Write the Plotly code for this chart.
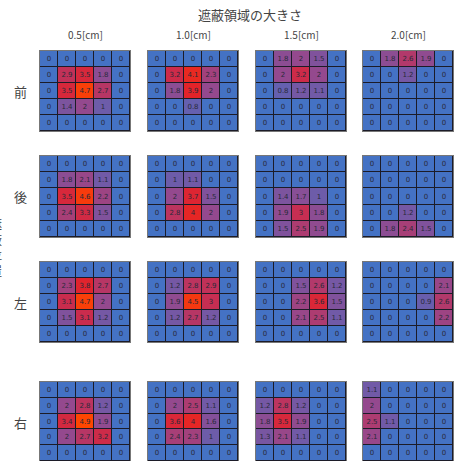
import plotly.graph_objects as go

# Shielded-area sizes (columns) and shielding positions (rows)
sizes = ["0.5[cm]", "1.0[cm]", "1.5[cm]", "2.0[cm]"]
positions = ["前", "後", "左", "右"]

front_05 = [[0, 0, 0, 0, 0], [0, 2.9, 3.5, 1.8, 0], [0, 3.5, 4.7, 2.7, 0], [0, 1.4, 2, 1, 0], [0, 0, 0, 0, 0]]
front_10 = [[0, 0, 0, 0, 0], [0, 3.2, 4.1, 2.3, 0], [0, 1.8, 3.9, 2, 0], [0, 0, 0.8, 0, 0], [0, 0, 0, 0, 0]]
front_15 = [[0, 1.8, 2, 1.5, 0], [0, 2, 3.2, 2, 0], [0, 0.8, 1.2, 1.1, 0], [0, 0, 0, 0, 0], [0, 0, 0, 0, 0]]
front_20 = [[0, 1.8, 2.6, 1.9, 0], [0, 0, 1.2, 0, 0], [0, 0, 0, 0, 0], [0, 0, 0, 0, 0], [0, 0, 0, 0, 0]]

back_05 = [[0, 0, 0, 0, 0], [0, 1.8, 2.1, 1.1, 0], [0, 3.5, 4.6, 2.2, 0], [0, 2.4, 3.3, 1.5, 0], [0, 0, 0, 0, 0]]
back_10 = [[0, 0, 0, 0, 0], [0, 1, 1.1, 0, 0], [0, 2, 3.7, 1.5, 0], [0, 2.8, 4, 2, 0], [0, 0, 0, 0, 0]]
back_15 = [[0, 0, 0, 0, 0], [0, 0, 0, 0, 0], [0, 1.4, 1.7, 1, 0], [0, 1.9, 3, 1.8, 0], [0, 1.5, 2.5, 1.9, 0]]
back_20 = [[0, 0, 0, 0, 0], [0, 0, 0, 0, 0], [0, 0, 0, 0, 0], [0, 0, 1.2, 0, 0], [0, 1.8, 2.4, 1.5, 0]]

left_05 = [[0, 0, 0, 0, 0], [0, 2.3, 3.8, 2.7, 0], [0, 3.1, 4.7, 2, 0], [0, 1.5, 3.1, 1.2, 0], [0, 0, 0, 0, 0]]
left_10 = [[0, 0, 0, 0, 0], [0, 1.2, 2.8, 2.9, 0], [0, 1.9, 4.5, 3, 0], [0, 1.2, 2.7, 1.2, 0], [0, 0, 0, 0, 0]]
left_15 = [[0, 0, 0, 0, 0], [0, 0, 1.5, 2.6, 1.2], [0, 0, 2.2, 3.6, 1.5], [0, 0, 2.1, 2.5, 1.1], [0, 0, 0, 0, 0]]
left_20 = [[0, 0, 0, 0, 0], [0, 0, 0, 0, 2.1], [0, 0, 0, 0.9, 2.6], [0, 0, 0, 0, 2.2], [0, 0, 0, 0, 0]]

right_05 = [[0, 0, 0, 0, 0], [0, 2, 2.8, 1.2, 0], [0, 3.4, 4.9, 1.9, 0], [0, 2, 2.7, 3.2, 0], [0, 0, 0, 0, 0]]
right_10 = [[0, 0, 0, 0, 0], [0, 2, 2.5, 1.1, 0], [0, 3.6, 4, 1.6, 0], [0, 2.4, 2.3, 1, 0], [0, 0, 0, 0, 0]]
right_15 = [[0, 0, 0, 0, 0], [1.2, 2.8, 1.2, 0, 0], [1.8, 3.5, 1.9, 0, 0], [1.3, 2.1, 1.1, 0, 0], [0, 0, 0, 0, 0]]
right_20 = [[1.1, 0, 0, 0, 0], [2, 0, 0, 0, 0], [2.5, 1.1, 0, 0, 0], [2.1, 0, 0, 0, 0], [0, 0, 0, 0, 0]]

grid = [
    [front_05, front_10, front_15, front_20],
    [back_05, back_10, back_15, back_20],
    [left_05, left_10, left_15, left_20],
    [right_05, right_10, right_15, right_20],
]

W, H = 454, 461
col_px = [(40, 130), (148, 238), (256, 346), (363, 453)]
row_px = [(51, 131), (156, 237), (262, 342), (382, 461)]

colorscale = [
    [0.0, "rgb(68,114,196)"],
    [0.2, "rgb(108,92,170)"],
    [0.42, "rgb(150,72,140)"],
    [0.62, "rgb(200,45,80)"],
    [0.8, "rgb(228,35,40)"],
    [1.0, "rgb(255,70,0)"],
]
ZMAX = 4.9

FONT = "Noto Sans CJK JP, Noto Sans, sans-serif"

fig = go.Figure()
layout = {}
n = 0
for r, row in enumerate(grid):
    for c, z in enumerate(row):
        n += 1
        sfx = "" if n == 1 else str(n)
        text = [[f"{v:g}" for v in line] for line in z]
        fig.add_trace(go.Heatmap(
            z=z, text=text, texttemplate="%{text}",
            textfont=dict(size=7, color="#2a2a3a", family="DejaVu Sans"),
            colorscale=colorscale, zmin=0, zmax=ZMAX, showscale=False,
            xgap=1, ygap=1, hoverinfo="skip",
            xaxis="x" + sfx, yaxis="y" + sfx,
        ))
        x0, x1 = col_px[c]
        y0, y1 = row_px[r]
        layout["xaxis" + sfx] = dict(
            domain=[x0 / W, x1 / W], range=[-0.5, 4.5],
            showticklabels=False, ticks="", showgrid=False, zeroline=False,
            showline=True, mirror=True, linecolor="#777", linewidth=1,
            anchor="y" + sfx, fixedrange=True,
        )
        layout["yaxis" + sfx] = dict(
            domain=[1 - y1 / H, 1 - y0 / H], range=[4.5, -0.5],
            showticklabels=False, ticks="", showgrid=False, zeroline=False,
            showline=True, mirror=True, linecolor="#777", linewidth=1,
            anchor="x" + sfx, fixedrange=True,
        )


def label(text, xpx, ypx, size):
    return dict(text=text, x=xpx / W, y=1 - ypx / H, xref="paper", yref="paper",
                xanchor="center", yanchor="middle", showarrow=False,
                font=dict(size=size, color="#444", family=FONT))


annotations = [label("遮蔽領域の大きさ", 250, 14, 13)]
for c, lab in enumerate(sizes):
    xc = (col_px[c][0] + col_px[c][1]) / 2
    annotations.append(label(lab, xc, 35, 10))
for r, lab in enumerate(positions):
    annotations.append(label(lab, 20, [91, 196, 302, 422][r], 13))
annotations.append(label("遮<br>蔽<br>位<br>置", -4, 247, 12))

fig.update_layout(
    width=W, height=H, margin=dict(l=0, r=0, t=0, b=0),
    paper_bgcolor="white", plot_bgcolor="#1c1c28",
    annotations=annotations, showlegend=False, **layout,
)
fig.write_html("out.html")
